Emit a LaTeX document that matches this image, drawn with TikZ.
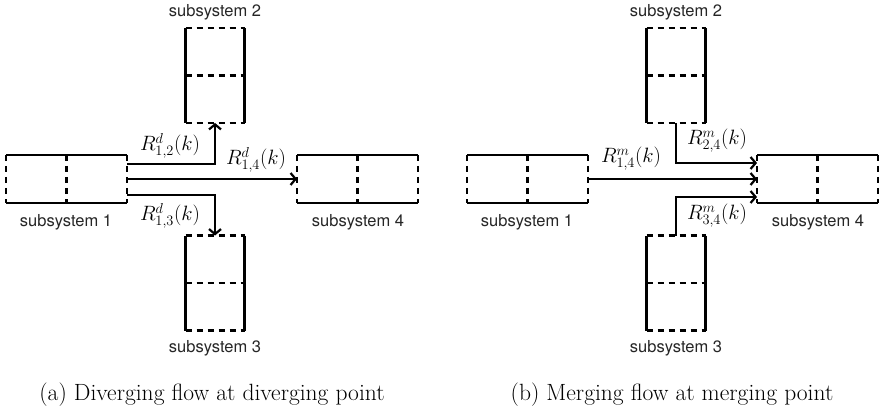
\documentclass[tikz,border=0pt]{standalone}
\usepackage{fontspec}
\usetikzlibrary{arrows.meta}
\newfontfamily\labfont{TeX Gyre Heros}
\newcommand\drawHsub[1]{%
  \draw[boxline] (#1.north west) -- (#1.north east) (#1.south west) -- (#1.south east);
  \draw[boxline,dsh] (#1.north west) -- (#1.south west) (#1.north) -- (#1.south) (#1.north east) -- (#1.south east);}
\newcommand\drawVsub[1]{%
  \draw[boxline] (#1.north west) -- (#1.south west) (#1.north east) -- (#1.south east);
  \draw[boxline,dsh] (#1.north west) -- (#1.north east) (#1.west) -- (#1.east) (#1.south west) -- (#1.south east);}
\begin{document}
\begin{tikzpicture}[x=1pt,y=-1pt,
  box/.style={draw=none, inner sep=0pt, outer sep=0pt},
  hb/.style={box, minimum width=121pt, minimum height=48pt},
  vb/.style={box, minimum width=59pt, minimum height=95pt},
  boxline/.style={line width=2.2pt},
  dsh/.style={dash pattern=on 6pt off 5pt, line cap=butt},
  flow/.style={-{Straight Barb[length=5pt,width=12pt]}, line width=2.2pt},
  lab/.style={font=\labfont\fontsize{16.5}{18}\selectfont, text=black!85, inner sep=0pt},
  rlab/.style={font=\fontsize{20}{24}\selectfont, inner sep=0pt},
  captxt/.style={font=\fontsize{23.5}{28}\selectfont, inner sep=0pt}]
\useasboundingbox (0,0) rectangle (880,414);

% ---------- (a) diverging ----------
\node[hb] (a1) at (66.5,179) {};
\node[vb] (a2) at (215,75.5) {};
\node[hb] (a4) at (357.5,179) {};
\node[vb] (a3) at (215,283) {};
\drawHsub{a1}\drawVsub{a2}\drawHsub{a4}\drawVsub{a3}
\node[lab] (la1) at (66,222) {subsystem 1};
\node[lab] (la2) at (215,12) {subsystem 2};
\node[lab] (la4) at (358,222) {subsystem 4};
\node[lab] (la3) at (215,348) {subsystem 3};
\coordinate (yau) at (0,164);
\coordinate (yad) at (0,195);
\draw[flow] (a1.east |- yau) -| (a2.south);
\draw[flow] (a1.east) -- (a4.west);
\draw[flow] (a1.east |- yad) -| (a3.north);
\node[rlab] (ra12) at (170,146) {$R^{d}_{1,2}(k)$};
\node[rlab] (ra14) at (256,160) {$R^{d}_{1,4}(k)$};
\node[rlab] (ra13) at (170,216) {$R^{d}_{1,3}(k)$};
\node[captxt] (capa) at (212,395) {(a) Diverging flow at diverging point};

% ---------- (b) merging ----------
\node[hb] (b1) at (527.5,179) {};
\node[vb] (b2) at (676,75.5) {};
\node[hb] (b4) at (817.5,179) {};
\node[vb] (b3) at (676,283) {};
\drawHsub{b1}\drawVsub{b2}\drawHsub{b4}\drawVsub{b3}
\node[lab] (lb1) at (527,222) {subsystem 1};
\node[lab] (lb2) at (676,12) {subsystem 2};
\node[lab] (lb4) at (818,222) {subsystem 4};
\node[lab] (lb3) at (676,348) {subsystem 3};
\coordinate (ybu) at (0,163);
\coordinate (ybd) at (0,197);
\draw[flow] (b2.south) |- (b4.west |- ybu);
\draw[flow] (b1.east) -- (b4.west);
\draw[flow] (b3.north) |- (b4.west |- ybd);
\node[rlab] (rb24) at (717,141) {$R^{m}_{2,4}(k)$};
\node[rlab] (rb14) at (631,159) {$R^{m}_{1,4}(k)$};
\node[rlab] (rb34) at (717,216) {$R^{m}_{3,4}(k)$};
\node[captxt] (capb) at (672,395) {(b) Merging flow at merging point};
\end{tikzpicture}
\end{document}
